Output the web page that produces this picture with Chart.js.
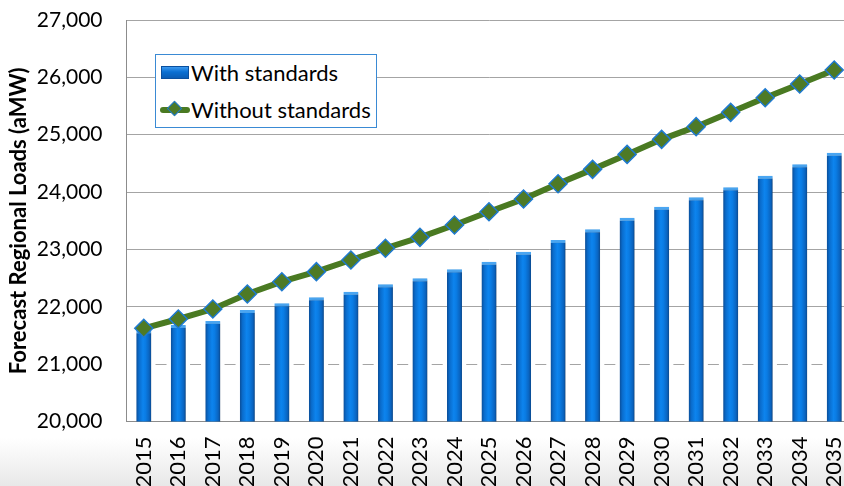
<!DOCTYPE html>
<html>
<head>
<meta charset="utf-8">
<script src="https://cdn.jsdelivr.net/npm/chart.js@4/dist/chart.umd.min.js"></script>
<style>
html,body{margin:0;padding:0;width:844px;height:486px;overflow:hidden;}
body{position:relative;background:linear-gradient(to bottom,#ffffff 0px,#ffffff 438px,#e8e8e8 486px);font-family:Lato,"Open Sans",sans-serif;}
#wrap{position:absolute;left:0;top:0;width:862px;height:486px;}
#legend{position:absolute;left:155px;top:54px;width:222px;height:74px;border:1px solid #3a8ad4;background:#fff;box-sizing:border-box;}
.item{position:absolute;left:0;height:24px;line-height:24px;font-size:22px;color:#000;white-space:nowrap;}
.item .txt{position:absolute;left:35px;top:0;}
.sw-bar{position:absolute;left:5px;top:5px;width:28px;height:13px;background:linear-gradient(to bottom,#3d9af0 0%,#0a6fd2 45%,#0a5cb4 100%);border:1px solid #0a4f9e;box-sizing:border-box;}
.sw-line{position:absolute;left:4px;top:9px;width:30px;height:6px;background:#4a7a22;border-radius:3px;}
.sw-dia{position:absolute;left:13px;top:5px;width:11px;height:11px;background:#4e7a26;border:1px solid #1f7ad0;transform:rotate(45deg);box-sizing:border-box;}
</style>
</head>
<body>
<div id="wrap"><canvas id="c" width="862" height="486"></canvas></div>
<div id="legend"></div>
<script>
const years = ['2015','2016','2017','2018','2019','2020','2021','2022','2023','2024','2025','2026','2027','2028','2029','2030','2031','2032','2033','2034','2035'];
const withStandards = [21590, 21682, 21752, 21944, 22060, 22165, 22263, 22392, 22497, 22653, 22787, 22961, 23164, 23350, 23553, 23745, 23909, 24083, 24286, 24483, 24686];
const withoutStandards = [21625, 21787, 21961, 22223, 22437, 22612, 22816, 23020, 23211, 23426, 23658, 23879, 24146, 24396, 24657, 24919, 25140, 25390, 25645, 25884, 26128];
const yMin = 20000, yMax = 27000, yStep = 1000;
const dashedGridValue = 21000;
const seriesNames = ['With standards', 'Without standards'];
const axisTitle = 'Forecast Regional Loads (aMW)';

const BAR_PCT = 0.435;
const GRID = '#a4a4a4';

function barFill(ctx){
  const chart = ctx.chart, xs = chart.scales && chart.scales.x;
  if (!xs || ctx.type !== 'data' || !xs.width) return '#0a74da';
  const cx = xs.getPixelForValue(ctx.dataIndex);
  const half = (xs.width / years.length) * BAR_PCT / 2;
  const g = chart.ctx.createLinearGradient(cx - half, 0, cx + half, 0);
  g.addColorStop(0, '#0a4c96');
  g.addColorStop(0.18, '#0a6ccc');
  g.addColorStop(0.45, '#0d84ee');
  g.addColorStop(0.62, '#0a7ce4');
  g.addColorStop(0.86, '#0a64c0');
  g.addColorStop(1, '#0a488c');
  return g;
}

const decor = {
  id: 'decor',
  beforeDatasetsDraw(chart){
    const {ctx, scales: {x, y}} = chart;
    const yy = Math.round(y.getPixelForValue(dashedGridValue)) + 0.5;
    ctx.save();
    ctx.strokeStyle = GRID; ctx.lineWidth = 1;
    ctx.beginPath();
    for (let i = 1; i < years.length; i++){
      const bx = (x.getPixelForValue(i - 1) + x.getPixelForValue(i)) / 2;
      ctx.moveTo(bx - 5.5, yy); ctx.lineTo(bx + 5.5, yy);
    }
    ctx.stroke();
    ctx.restore();
  },
  beforeDatasetDraw(chart, args){
    if (args.index === 0){
      const ctx = chart.ctx;
      ctx.save();
      ctx.shadowColor = 'rgba(0,0,0,0.28)';
      ctx.shadowBlur = 3;
      ctx.shadowOffsetX = 2;
      ctx.shadowOffsetY = 1;
    }
  },
  afterDatasetDraw(chart, args){
    if (args.index === 0) chart.ctx.restore();
  }
};

const chart = new Chart(document.getElementById('c'), {
  data: {
    labels: years,
    datasets: [
      {
        type: 'bar', label: seriesNames[0], data: withStandards, order: 2,
        backgroundColor: barFill,
        borderColor: '#4aa6f2',
        borderWidth: {top: 3, left: 0, right: 0, bottom: 0},
        borderSkipped: 'bottom',
        barPercentage: BAR_PCT, categoryPercentage: 1
      },
      {
        type: 'line', label: seriesNames[1], data: withoutStandards, order: 1,
        borderColor: '#4a7a22', borderWidth: 6, tension: 0,
        pointStyle: 'rectRot', pointRadius: 9,
        pointBackgroundColor: '#4e7a26', pointBorderColor: '#1f7ad0', pointBorderWidth: 1.5
      }
    ]
  },
  options: {
    responsive: false, animation: false,
    layout: {padding: {top: 20, right: 0, bottom: 0, left: 0}},
    plugins: {legend: {display: false}, tooltip: {enabled: false}},
    scales: {
      x: {
        grid: {display: false, drawTicks: false},
        border: {display: true, color: '#8c8c8c'},
        ticks: {color: '#000', font: {family: 'Lato', size: 22}, minRotation: 90, maxRotation: 90, padding: 15, autoSkip: false},
        afterFit(s){ s.height = 64.5; s.paddingLeft = 0; s.paddingRight = 0; }
      },
      y: {
        min: yMin, max: yMax,
        grid: {drawTicks: false, color: (c) => (c.tick && c.tick.value === dashedGridValue) ? 'rgba(0,0,0,0)' : GRID},
        border: {display: true, color: '#8c8c8c'},
        ticks: {stepSize: yStep, color: '#000', font: {family: 'Lato', size: 21}, padding: 24,
          callback: (v) => Number(v).toLocaleString('en-US')},
        title: {display: true, text: axisTitle, color: '#000', font: {family: 'Lato', size: 22, weight: 'bold'}, padding: {top: 5.5, bottom: 0}},
        afterFit(s){ s.width = 126.5; s.paddingTop = 0; s.paddingBottom = 0; }
      }
    }
  },
  plugins: [decor]
});

// HTML legend built from dataset labels
const lg = document.getElementById('legend');
chart.data.datasets.forEach((ds, i) => {
  const it = document.createElement('div');
  it.className = 'item';
  it.style.top = (i === 0 ? 6 : 43) + 'px';
  if (ds.type === 'bar') {
    const s = document.createElement('span'); s.className = 'sw-bar'; it.appendChild(s);
  } else {
    const s = document.createElement('span'); s.className = 'sw-line'; it.appendChild(s);
    const d = document.createElement('span'); d.className = 'sw-dia'; it.appendChild(d);
  }
  const t = document.createElement('span'); t.className = 'txt'; t.textContent = ds.label; it.appendChild(t);
  lg.appendChild(it);
});
</script>
</body>
</html>
